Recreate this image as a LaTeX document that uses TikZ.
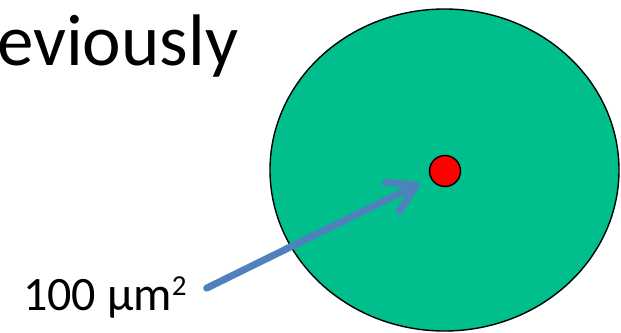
\documentclass[tikz,border=0pt]{standalone}
\usepackage{fontspec}
\setmainfont{Carlito}
\usepackage{xcolor}
\definecolor{cellgreen}{RGB}{0, 191, 140}
\definecolor{pointerblue}{RGB}{79, 129, 189}
\usetikzlibrary{
  arrows.meta,
  positioning,
  shapes.geometric
}

\begin{document}
\begin{tikzpicture}[x=1pt, y=-1pt,
  cellshape/.style={ellipse, draw=black, line width=1.4pt, fill=cellgreen, minimum width=349pt, minimum height=322pt, inner sep=0pt},
  dotshape/.style={circle, draw=black, line width=1.4pt, fill=red, minimum size=31pt, inner sep=0pt},
  pointer/.style={line width=7pt, pointerblue, line cap=round, -{Straight Barb[length=27pt, width=32pt, round]}}]
  \useasboundingbox (0, 0) rectangle (621, 332);

  % heading, cut at the left edge
  \node[anchor=base west, inner sep=0pt, font=\fontsize{73}{86}\selectfont] (heading) at (-3, 65) {eviously};

  % the cell and its centre
  \node[cellshape] (cell) at (444.5, 170) {};
  \node[dotshape] (nucleus) at (445, 171) {};

  % size label and its pointer
  \node[anchor=base west, inner sep=2pt, font=\fontsize{48}{58}\selectfont] (area) at (21, 310)
    {100 µm\raisebox{15pt}{\fontsize{29}{34}\selectfont 2}};
  \draw[pointer, shorten <=20pt, shorten >=12pt] (area.east) -- (nucleus);
\end{tikzpicture}
\end{document}
